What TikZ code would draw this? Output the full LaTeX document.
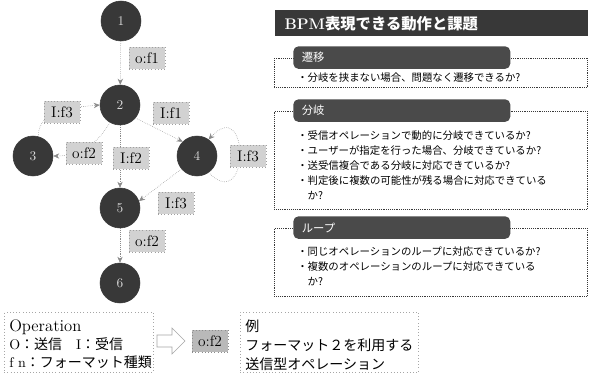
\documentclass[tikz,border=0pt]{standalone}
\usepackage{fontspec}
\newfontfamily\jp{Noto Sans CJK JP}
\usetikzlibrary{arrows.meta}
\definecolor{dk}{HTML}{383838}
\definecolor{tabc}{HTML}{4A4A4A}
\definecolor{lbl}{HTML}{D2D2D2}
\definecolor{edg}{HTML}{8A8A8A}
\begin{document}
\begin{tikzpicture}[x=0.75pt,y=-0.75pt,
  st/.style={circle,fill=dk,draw=dk,minimum size=30pt,inner sep=0pt,text=white!85!black,font=\fontsize{10}{12}\selectfont},
  lab/.style={draw=gray!75,dotted,fill=lbl,minimum width=27pt,minimum height=16.5pt,inner sep=1pt,font=\fontsize{11.5}{12}\selectfont},
  edge/.style={draw=edg,densely dotted,-{Stealth[length=4.5pt,width=4pt]}},
  secbox/.style={draw=dk,densely dotted,fill=white,anchor=north west,inner sep=0pt},
  tabbox/.style={fill=tabc,rounded corners=4pt,anchor=north west,text width=150pt,align=left,inner xsep=6.4pt,inner ysep=0pt,minimum height=17pt,text=white,font=\jp\fontsize{8.5}{10}\selectfont},
  item/.style={anchor=north west,inner sep=0pt,align=left,font=\jp\fontsize{7.8}{11.25}\selectfont},
  legbox/.style={draw=gray!70,dotted,anchor=north west,inner sep=0pt},
  legtxt/.style={anchor=west,inner sep=0pt,font=\fontsize{10.5}{12}\selectfont}
]
\fill[white] (0,0) rectangle (591,374);

% states
\node[st] (n1) at (121,21) {1};
\node[st] (n2) at (120,105) {2};
\node[st] (n3) at (33,156) {3};
\node[st] (n4) at (197,156) {4};
\node[st] (n5) at (120,208) {5};
\node[st] (n6) at (120,283) {6};

% transitions
\draw[edge] (n1) -- (n2);
\draw[edge] (n3.75) to[out=90,in=185] (n2.west);
\draw[edge] (n2.240) to[out=240,in=0] (n3.east);
\draw[edge] (n2.-40) -- (n4.135);
\draw[edge] (n2) -- (n5);
\draw[edge] (n4.-55) .. controls (250,215) and (250,95) .. (n4.55);
\draw[edge] (n4.220) -- (n5.20);
\draw[edge] (n5) -- (n6);

% labels
\node[lab] (l1) at (147,58) {o:f1};
\node[lab] (l2) at (62,112) {I:f3};
\node[lab] (l3) at (171,113) {I:f1};
\node[lab] (l4) at (84,153) {o:f2};
\node[lab] (l5) at (131,158) {I:f2};
\node[lab] (l6) at (248,156) {I:f3};
\node[lab] (l7) at (176,203) {I:f3};
\node[lab] (l8) at (147,241) {o:f2};

% title
\node[fill=dk,anchor=north west,minimum width=234.75pt,minimum height=19.5pt,inner sep=0pt] (tb) at (275,10) {};
\node[anchor=west,inner sep=0pt,text=white,font=\fontsize{11.5}{14}\selectfont\bfseries] (tt) at ([xshift=7pt]tb.west) {BPM{\jp\bfseries 表現できる動作と課題}};

% section 1
\node[secbox,minimum width=234.75pt,minimum height=22pt] (b1) at (274,58) {};
\node[tabbox] (t1) at (293,46) {遷移};
\node[item] (i1) at (297,72) {・分岐を挟まない場合、問題なく遷移できるか?};

% section 2
\node[secbox,minimum width=234.75pt,minimum height=73.5pt] (b2) at (274,111) {};
\node[tabbox] (t2) at (293,99) {分岐};
\node[item] (i2) at (297,130.5) {・受信オペレーションで動的に分岐できているか?\\
・ユーザーが指定を行った場合、分岐できているか?\\
・送受信複合である分岐に対応できているか?\\
・判定後に複数の可能性が残る場合に対応できている\\
\hspace*{7.8pt}か?};

% section 3
\node[secbox,minimum width=234.75pt,minimum height=51pt] (b3) at (274,228) {};
\node[tabbox] (t3) at (293,216) {ループ};
\node[item] (i3) at (297,246.5) {・同じオペレーションのループに対応できているか?\\
・複数のオペレーションのループに対応できている\\
\hspace*{7.8pt}か?};

% legend
\node[legbox,minimum width=111.75pt,minimum height=45pt] (lg) at (4,312) {};
\node[legtxt,font=\fontsize{12.5}{14}\selectfont] (lg1) at (9,327) {Operation};
\node[legtxt] (lg2) at (9,344) {O{\jp ：送信　}I{\jp ：受信}};
\node[legtxt] (lg3) at (9,362) {f n{\jp ：フォーマット種類}};

\draw[gray!70,fill=white] (157,335) -- (172,335) -- (172,328) -- (185,341) -- (172,354) -- (172,347) -- (157,347) -- cycle;
\node[lab,fill=gray!55,draw=gray!90] (ex) at (210,341) {o:f2};

\node[legbox,minimum width=133.5pt,minimum height=45pt] (eg) at (240,312) {};
\node[legtxt,font=\jp\fontsize{10.5}{12}\selectfont] (eg1) at (245,326) {例};
\node[legtxt,font=\jp\fontsize{10.5}{12}\selectfont] (eg2) at (245,345) {フォーマット２を利用する};
\node[legtxt,font=\jp\fontsize{10.5}{12}\selectfont] (eg3) at (245,364) {送信型オペレーション};
\end{tikzpicture}
\end{document}
